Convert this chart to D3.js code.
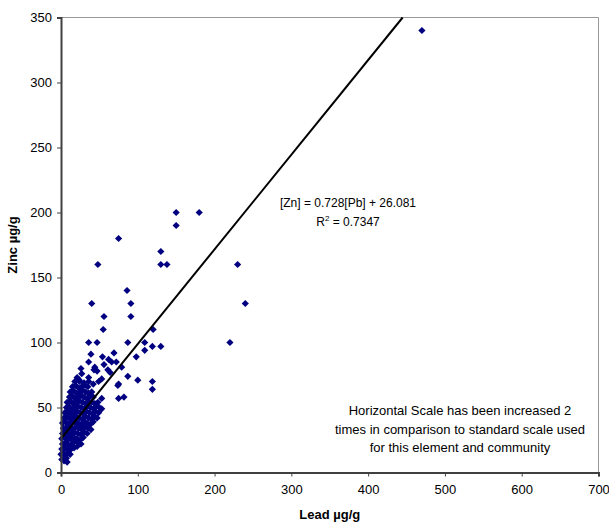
<!DOCTYPE html>
<html><head><meta charset="utf-8">
<script src="https://cdn.jsdelivr.net/npm/d3@7"></script>
<style>body{margin:0;background:#fff;} text{font-family:"Liberation Sans",Arial,sans-serif;}</style>
</head><body><svg id="c" width="609" height="525"></svg>
<script>
const xTicks = [0,100,200,300,400,500,600,700];
const yTicks = [0,50,100,150,200,250,300,350];
const trendSlope = 0.728, trendIntercept = 26.081;
const eqText = "[Zn] = 0.728[Pb] + 26.081";
const r2Text = "0.7347";
const noteLines = ["Horizontal Scale has been increased 2","times in comparison to standard scale used","for this element and community"];
const lead = [
 1,4,7,2,5,8,
 0,3,6,9,12,2,
 1,5,9,13,17,21,
 2,6,10,14,18,22,26,
 1,5,9,13,17,21,25,29,
 2,6,10,14,18,22,26,30,34,
 3,7,11,15,19,23,27,31,35,39,
 2,6,10,14,18,22,26,30,34,38,42,
 4,8,12,16,20,24,28,32,36,40,44,47,
 5,9,13,17,21,25,29,33,37,41,45,49,
 7,10,14,18,22,26,30,34,38,42,46,50,53,
 8,12,16,20,24,28,32,36,40,44,48,
 11,14,18,22,26,30,34,38,42,
 12,16,20,24,28,32,36,40,
 15,19,23,27,31,35,
 18,24,30,36,42,
 40,91,56,91,55,120,36,47,87,109,119,130,109,39,69,54,98,36,62,66,72,56,79,44,26,43,61,27,47,64,87,100,119,75,119,53,49,36,21,24,
 74,75,82,53,
 470,150,180,150,75,130,48,130,138,86,230,240,220
];
const zinc = [
 10,9,11,13,12,8,
 14,15,13,15,14,18,
 18,19,17,18,19,20,
 22,23,21,22,24,23,22,
 26,27,25,26,27,26,25,27,
 30,31,29,30,31,30,29,31,30,
 34,35,33,34,35,34,33,35,34,33,
 38,39,37,38,39,38,37,39,38,37,39,
 42,43,41,42,43,42,41,43,42,41,43,42,
 46,47,45,46,47,46,45,47,46,45,47,46,
 50,51,49,50,51,50,49,51,50,49,51,50,49,
 54,55,53,54,55,54,53,55,54,53,54,
 58,59,57,58,59,58,57,59,58,
 62,63,61,62,63,62,61,62,
 66,67,65,66,67,66,
 70,71,69,70,68,
 130,130,120,120,110,110,100,100,100,100,97,97,94,91,92,89,89,85,87,85,85,83,81,81,80,79,79,76,78,77,74,71,70,68,64,72,70,73,73,70,
 67,57,58,57,
 340,200,200,190,180,170,160,160,160,140,160,130,100
];
const W = 609, H = 525;
const m = {l:61, r:W-598.5, t:17.5, b:H-472.5};
const svg = d3.select("#c");
const x = d3.scaleLinear().domain([0,700]).range([m.l, W-m.r]);
const y = d3.scaleLinear().domain([0,350]).range([H-m.b, m.t]);

svg.append("line").attr("x1",x(0)).attr("x2",x(700)).attr("y1",y(350)).attr("y2",y(350)).attr("stroke","#999").attr("stroke-width",1);
svg.append("line").attr("x1",x(700)).attr("x2",x(700)).attr("y1",y(0)).attr("y2",y(350)).attr("stroke","#999").attr("stroke-width",1);

const data = lead.map((d,i)=>({x:d,y:zinc[i]}));
const r = 3.6;
const diamond = `M0,${-r}L${r},0L0,${r}L${-r},0Z`;
svg.append("g").selectAll("path").data(data).join("path")
  .attr("d",diamond).attr("transform",d=>`translate(${x(d.x)},${y(d.y)})`).attr("fill","#000080");

const xEnd = (350-trendIntercept)/trendSlope;
svg.append("line").attr("x1",x(0)).attr("y1",y(trendIntercept)).attr("x2",x(xEnd)).attr("y2",y(350))
  .attr("stroke","#000").attr("stroke-width",2);

const xa = svg.append("g").attr("transform",`translate(0,${y(0)})`).call(d3.axisBottom(x).tickValues(xTicks).tickSize(4).tickPadding(8));
const ya = svg.append("g").attr("transform",`translate(${x(0)},0)`).call(d3.axisLeft(y).tickValues(yTicks).tickSize(4).tickPadding(5));
[xa,ya].forEach(a=>{a.select(".domain").attr("stroke","#404040").attr("stroke-width",2);
  a.selectAll(".tick line").attr("stroke","#404040");
  a.selectAll("text").attr("font-size",13).attr("fill","#000").attr("font-family","Liberation Sans, Arial, sans-serif");});

svg.append("text").attr("x",(x(0)+x(700))/2).attr("y",519).attr("text-anchor","middle").attr("font-weight","bold").attr("font-size",13).text("Lead µg/g");
svg.append("text").attr("transform",`translate(17,${(y(0)+y(350))/2}) rotate(-90)`).attr("text-anchor","middle").attr("font-weight","bold").attr("font-size",13).text("Zinc µg/g");

const eq = svg.append("text").attr("x",348).attr("y",207).attr("text-anchor","middle").attr("font-size",12);
eq.text(eqText);
const r2 = svg.append("text").attr("x",348).attr("y",226).attr("text-anchor","middle").attr("font-size",12);
r2.append("tspan").text("R");
r2.append("tspan").attr("dy",-5).attr("font-size",8).text("2");
r2.append("tspan").attr("dy",5).text(" = "+r2Text);

noteLines.forEach((t,i)=>{
  svg.append("text").attr("x",460).attr("y",415+i*18.5).attr("text-anchor","middle").attr("font-size",13).text(t);
});
</script></body></html>
